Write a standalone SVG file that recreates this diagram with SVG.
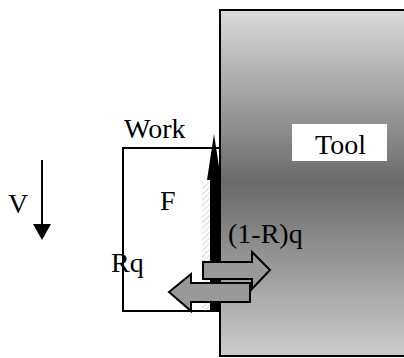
<svg xmlns="http://www.w3.org/2000/svg" width="404" height="358" viewBox="0 0 404 358">
<defs>
<linearGradient id="toolGrad" x1="0" y1="0" x2="0" y2="1">
<stop offset="0" stop-color="#dadada"/>
<stop offset="0.5" stop-color="#6a6a6a"/>
<stop offset="1" stop-color="#cccccc"/>
</linearGradient>
<pattern id="hatch" width="4" height="4" patternUnits="userSpaceOnUse" patternTransform="rotate(45)">
<line x1="0" y1="0" x2="0" y2="4" stroke="#bdbdbd" stroke-width="1.2"/>
</pattern>
<style>
text{font-family:'Liberation Serif','Times New Roman',Times,serif;font-size:28px;fill:#000}
.flow{fill:#999;stroke:#000;stroke-width:2;stroke-linejoin:miter}
</style>
</defs>
<rect width="404" height="358" fill="#fff"/>
<g id="work">
<rect x="123" y="148" width="97" height="163" fill="#fff" stroke="#000" stroke-width="2"/>
<text x="124" y="138">Work</text>
<rect x="202" y="182" width="8" height="129" fill="url(#hatch)"/>
</g>
<g id="force">
<polygon points="214,134 207,180 210,180 210,311 219,311 219,180 221,180" fill="#000"/>
<text x="160" y="210">F</text>
</g>
<g id="tool">
<rect x="220" y="10" width="190" height="346" fill="url(#toolGrad)" stroke="#000" stroke-width="2"/>
<rect x="292" y="124" width="95" height="37" fill="#fff"/>
<text x="315" y="154">Tool</text>
</g>
<g id="velocity">
<line x1="42" y1="160" x2="42" y2="226" stroke="#000" stroke-width="2"/>
<polygon points="33,224 51,224 42,240" fill="#000"/>
<text x="8" y="213">V</text>
</g>
<g id="connectors">
<polygon class="flow" points="203,262 252,262 252,252 270,270 252,289 252,279 203,279"/>
<polygon class="flow" points="169,292 191,274 191,283 250,283 250,302 191,302 191,311"/>
</g>
<g id="labels">
<text x="228" y="243">(1-R)q</text>
<text x="111" y="272">Rq</text>
</g>
</svg>
